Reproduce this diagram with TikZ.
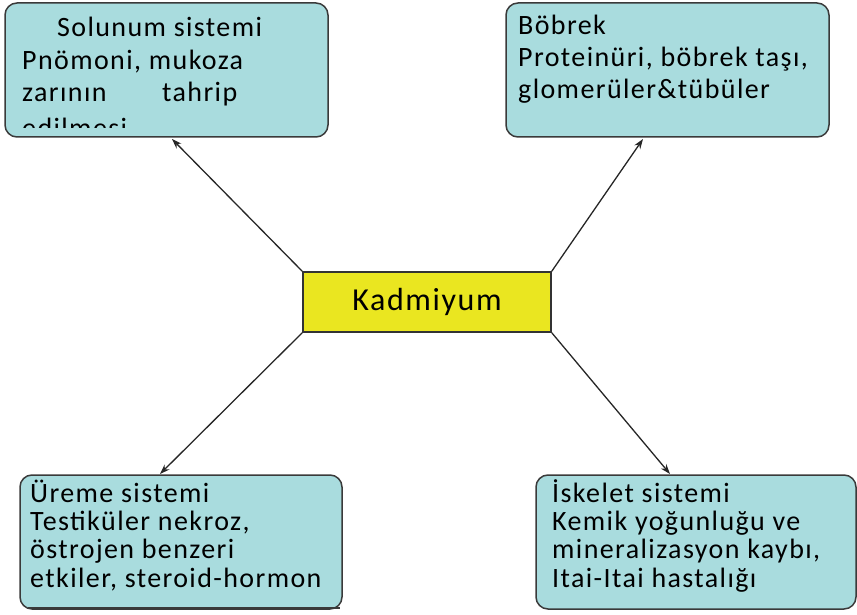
\documentclass[tikz,border=0pt]{standalone}
\usepackage{fontspec}
\setmainfont{Carlito}[LetterSpace=5]
\usetikzlibrary{arrows.meta}
\definecolor{boxfill}{HTML}{A9DCDE}
\definecolor{boxline}{HTML}{3A3A3A}
\definecolor{kyellow}{HTML}{EAE620}
\tikzset{
  organ/.style={draw=boxline, line width=1.5pt, fill=boxfill, rounded corners=12pt, inner sep=0pt},
  center/.style={draw=black!80, line width=1.6pt, fill=kyellow, minimum width=248pt, minimum height=60pt, inner sep=0pt, font=\fontsize{32}{36}\selectfont},
  txt/.style={anchor=base west, inner sep=0pt, font=\fontsize{28}{32}\selectfont},
  conn/.style={draw=black!85, line width=1.3pt, -{Stealth[length=10pt,width=7pt]}}
}
\begin{document}
\begin{tikzpicture}[x=1pt,y=-1pt]
\useasboundingbox (0,0) rectangle (857,615);
% boxes
\node[organ, minimum width=323pt, minimum height=134pt] (resp) at (166.5,70) {};
\node[organ, minimum width=323pt, minimum height=134pt] (kid) at (667.5,70) {};
\node[organ, minimum width=322pt, minimum height=134pt] (repr) at (181,542) {};
\node[organ, minimum width=320pt, minimum height=134pt] (skel) at (696,542) {};
\draw[boxline, line width=1.8pt] (28,608) -- (340,608);
% centre
\node[center] (cd) at (427,302) {Kadmiyum};
% texts
\begin{scope}
\clip (5,3) rectangle (328,128);
\node[txt] (r1) at (57,37) {Solunum sistemi};
\node[txt] (r2) at (22,70) {Pnömoni, mukoza};
\node[txt] (r3) at (22,102) {zarının};
\node[txt] (r3b) at (162,102) {tahrip};
\node[txt] (r4) at (22,138) {edilmesi};
\end{scope}
\node[txt] (k1) at (518,35) {Böbrek};
\node[txt] (k2) at (518,67) {Proteinüri, böbrek taşı,};
\node[txt] (k3) at (518,99) {glomerüler\&tübüler};
\node[txt] (p1) at (30,502) {Üreme sistemi};
\node[txt] (p2) at (30,530) {Testiküler nekroz,};
\node[txt] (p3) at (30,558) {östrojen benzeri};
\node[txt] (p4) at (30,587) {etkiler, steroid-hormon};
\node[txt] (s1) at (552,502) {İskelet sistemi};
\node[txt] (s2) at (552,530) {Kemik yoğunluğu ve};
\node[txt] (s3) at (552,558) {mineralizasyon kaybı,};
\node[txt] (s4) at (552,587) {Itai-Itai hastalığı};
% connectors
\coordinate (ra) at (172,139);
\coordinate (ka) at (643,139);
\coordinate (pa) at (160,474);
\coordinate (sa) at (670,474);
\draw[conn] (cd.north west) -- (ra);
\draw[conn] (cd.north east) -- (ka);
\draw[conn] (cd.south west) -- (pa);
\draw[conn] (cd.south east) -- (sa);
\end{tikzpicture}
\end{document}
